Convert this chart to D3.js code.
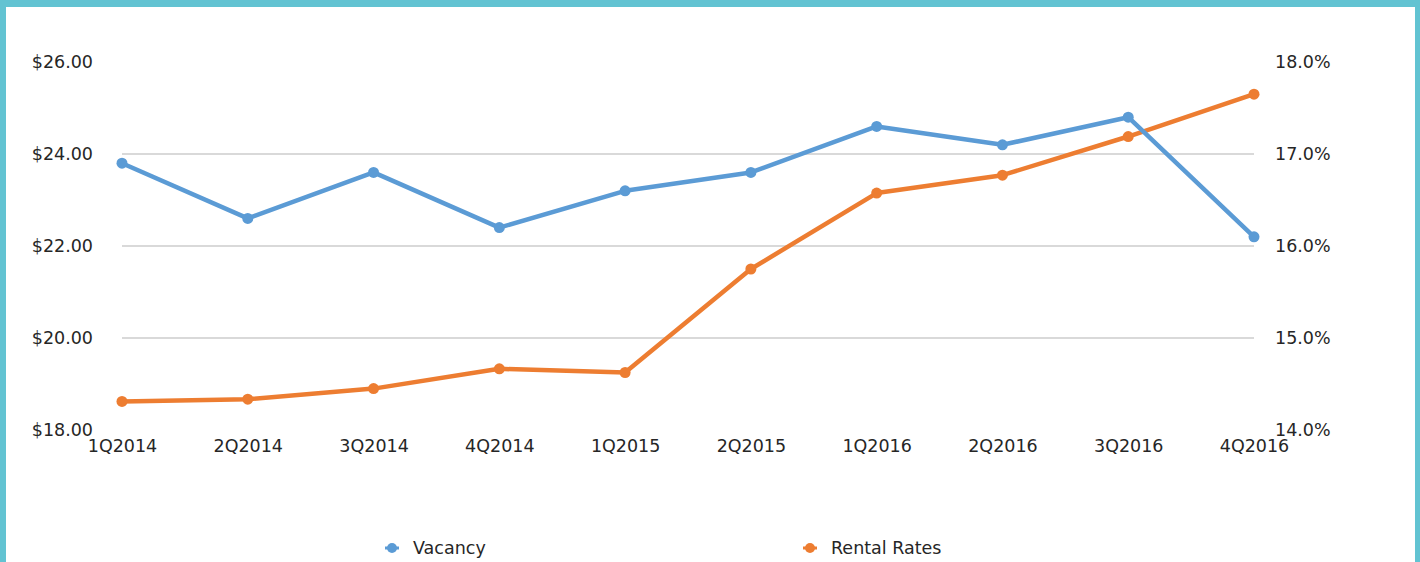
<!DOCTYPE html>
<html>
<head>
<meta charset="utf-8">
<script src="https://cdn.jsdelivr.net/npm/d3@7"></script>
<style>
  html, body { margin: 0; padding: 0; }
  body { width: 1420px; height: 562px; background: #62c3d2; overflow: hidden; }
  #chart { position: absolute; left: 6px; top: 7px; width: 1409px; height: 555px; background: #fff; }
  text { font-family: "DejaVu Sans", sans-serif; fill: #262626; }
</style>
</head>
<body>
<div id="chart"></div>
<script>
// categories and series
const quarters = ["1Q2014", "2Q2014", "3Q2014", "4Q2014", "1Q2015", "2Q2015", "1Q2016", "2Q2016", "3Q2016", "4Q2016"];
const vacancy = [16.9, 16.3, 16.8, 16.2, 16.6, 16.8, 17.3, 17.1, 17.4, 16.1];
const rentalRates = [18.62, 18.67, 18.9, 19.33, 19.25, 21.5, 23.15, 23.54, 24.38, 25.3];
const leftTicks = [18, 20, 22, 24, 26];
const rightTicks = [14, 15, 16, 17, 18];

const width = 1409, height = 555;
// offsets relative to the white panel (panel starts at 6,7)
const margin = { top: 55, right: 161, bottom: 132, left: 116 };
const fontSize = "17.5px";

const svg = d3.select("#chart")
    .append("svg")
    .attr("width", width)
    .attr("height", height);

const x = d3.scalePoint()
    .domain(quarters)
    .range([margin.left, width - margin.right]);

const yLeft = d3.scaleLinear()
    .domain([18, 26])
    .range([height - margin.bottom, margin.top]);

const yRight = d3.scaleLinear()
    .domain([14, 18])
    .range([height - margin.bottom, margin.top]);

// gridlines (interior only)
svg.append("g")
    .selectAll("line")
    .data(leftTicks.filter(d => d > 18 && d < 26))
    .enter().append("line")
    .attr("x1", margin.left)
    .attr("x2", width - margin.right)
    .attr("y1", d => yLeft(d))
    .attr("y2", d => yLeft(d))
    .attr("stroke", "#d9d9d9")
    .attr("stroke-width", 2);

// left axis
const leftAxis = d3.axisLeft(yLeft)
    .tickValues(leftTicks)
    .tickFormat(d => "$" + d.toFixed(2))
    .tickSize(0)
    .tickPadding(29);
const gl = svg.append("g")
    .attr("transform", `translate(${margin.left},0)`)
    .call(leftAxis);
gl.select(".domain").remove();
gl.selectAll("text").style("font-size", fontSize).attr("fill", "#262626");

// right axis
const rightAxis = d3.axisRight(yRight)
    .tickValues(rightTicks)
    .tickFormat(d => d.toFixed(1) + "%")
    .tickSize(0)
    .tickPadding(21);
const gr = svg.append("g")
    .attr("transform", `translate(${width - margin.right},0)`)
    .call(rightAxis);
gr.select(".domain").remove();
gr.selectAll("text").style("font-size", fontSize).attr("fill", "#262626");

// x axis labels
const xAxis = d3.axisBottom(x).tickSize(0).tickPadding(10);
const gx = svg.append("g")
    .attr("transform", `translate(0,${height - margin.bottom})`)
    .call(xAxis);
gx.select(".domain").remove();
gx.selectAll("text").style("font-size", fontSize).attr("fill", "#262626");

const series = [
    { name: "Vacancy", values: vacancy, scale: yRight, color: "#5b9bd5" },
    { name: "Rental Rates", values: rentalRates, scale: yLeft, color: "#ed7d31" }
];

series.slice().reverse().forEach(s => {
    const line = d3.line()
        .x((d, i) => x(quarters[i]))
        .y(d => s.scale(d));

    svg.append("path")
        .datum(s.values)
        .attr("fill", "none")
        .attr("stroke", s.color)
        .attr("stroke-width", 4.5)
        .attr("stroke-linejoin", "round")
        .attr("d", line);

    svg.selectAll(".dot-" + s.name.replace(/\s/g, ""))
        .data(s.values)
        .enter().append("circle")
        .attr("cx", (d, i) => x(quarters[i]))
        .attr("cy", d => s.scale(d))
        .attr("r", 5.5)
        .attr("fill", s.color);
});

// legend
const legendX = [386, 804];
const legend = svg.selectAll(".legend")
    .data(series)
    .enter().append("g")
    .attr("transform", (d, i) => `translate(${legendX[i]},${541})`);

legend.append("circle")
    .attr("r", 5)
    .attr("fill", d => d.color);

legend.append("line")
    .attr("x1", -7).attr("x2", 7)
    .attr("stroke", d => d.color)
    .attr("stroke-width", 3);

legend.append("text")
    .attr("x", 21)
    .attr("y", 6)
    .style("font-size", fontSize)
    .text(d => d.name);
</script>
</body>
</html>
